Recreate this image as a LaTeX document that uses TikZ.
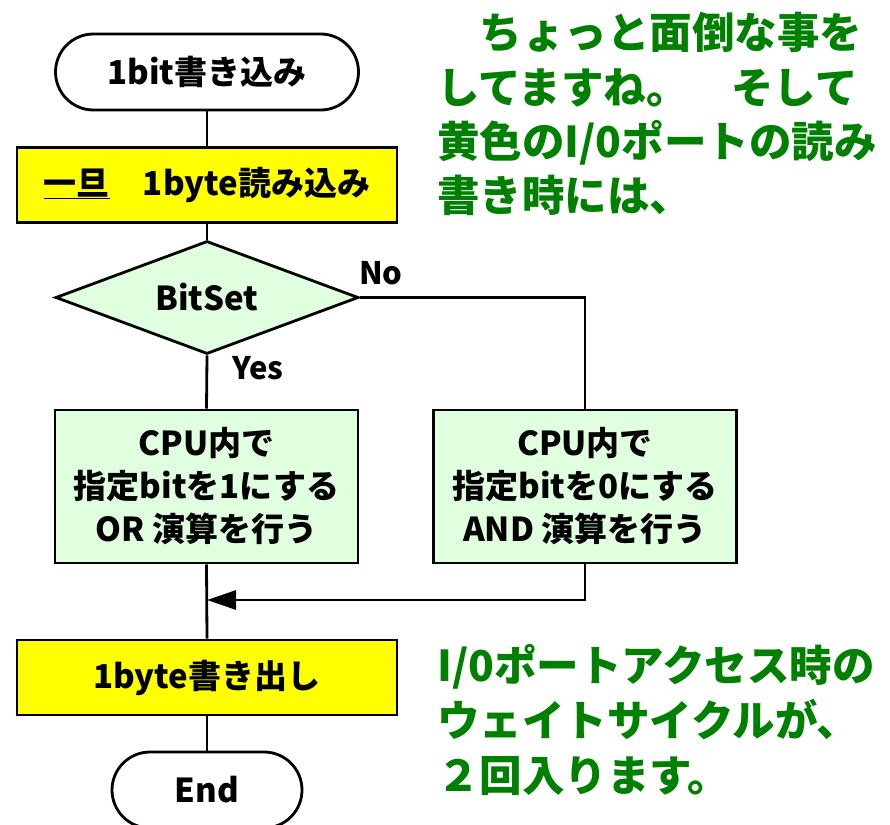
\documentclass[tikz,border=0pt]{standalone}
\usepackage{fontspec}
\setmainfont{Noto Sans CJK JP}
\usetikzlibrary{shapes.geometric,arrows.meta}
\definecolor{ylw}{HTML}{FFFF00}
\definecolor{lgreen}{HTML}{DFFFDF}
\definecolor{txtgreen}{HTML}{008000}
\begin{document}
\begin{tikzpicture}[x=1pt,y=-1pt,
  every node/.style={font=\bfseries\fontsize{33}{43}\selectfont, inner sep=0pt},
  term/.style={draw, line width=2.8pt, fill=white, rounded corners=38pt, minimum height=76pt},
  ybox/.style={draw, line width=2.8pt, fill=ylw, minimum width=380pt, minimum height=75pt},
  gbox/.style={draw, line width=2.8pt, fill=lgreen, minimum width=303pt, minimum height=153pt, align=center},
  dec/.style={draw, line width=2.8pt, fill=lgreen, diamond, aspect=2.68, minimum width=303pt, minimum height=113pt},
  flow/.style={line width=2.8pt},
  lbl/.style={font=\bfseries\fontsize{31}{36}\selectfont},
  note/.style={text=txtgreen, anchor=base west, font=\bfseries\fontsize{42.5}{54}\selectfont}
]
\useasboundingbox (0,0) rectangle (890,824);
\node[term, minimum width=303pt] (start) at (207,72) {1bit書き込み};
\node[ybox] (read) at (207,185) {\underline{一旦}\hspace{1em}1byte読み込み};
\node[dec] (bit) at (207,297.5) {BitSet};
\node[gbox] (orb) at (206.5,486.5) {CPU内で\\指定bitを1にする\\OR 演算を行う};
\node[gbox] (andb) at (585,486.5) {CPU内で\\指定bitを0にする\\AND 演算を行う};
\node[ybox] (write) at (207,677.5) {1byte書き出し};
\node[term, minimum width=190pt] (end) at (207,790) {End};
\coordinate (merge) at (207,600);
\draw[flow] (start) -- (read);
\draw[flow] (read) -- (bit);
\draw[flow] (bit.south) -- (orb.north);
\draw[flow] (bit.east) -| (andb.north);
\draw[flow] (orb.south) -- (write.north);
\draw[flow, -{Triangle[length=29pt,width=19pt]}] (andb.south) |- (merge);
\draw[flow] (write) -- (end);
\node[lbl] (no) at (381,273) {No};
\node[lbl] (yes) at (258,368) {Yes};
\node[note] (n1) at (437,49) {　ちょっと面倒な事を};
\node[note] (n2) at (437,103) {してますね。　そして};
\node[note] (n3) at (437,157) {黄色のI/0ポートの読み};
\node[note] (n4) at (437,211) {書き時には、};
\node[note] (m1) at (437,681) {I/0ポートアクセス時の};
\node[note] (m2) at (437,736) {ウェイトサイクルが、};
\node[note] (m3) at (437,791) {２回入ります。};
\end{tikzpicture}
\end{document}
